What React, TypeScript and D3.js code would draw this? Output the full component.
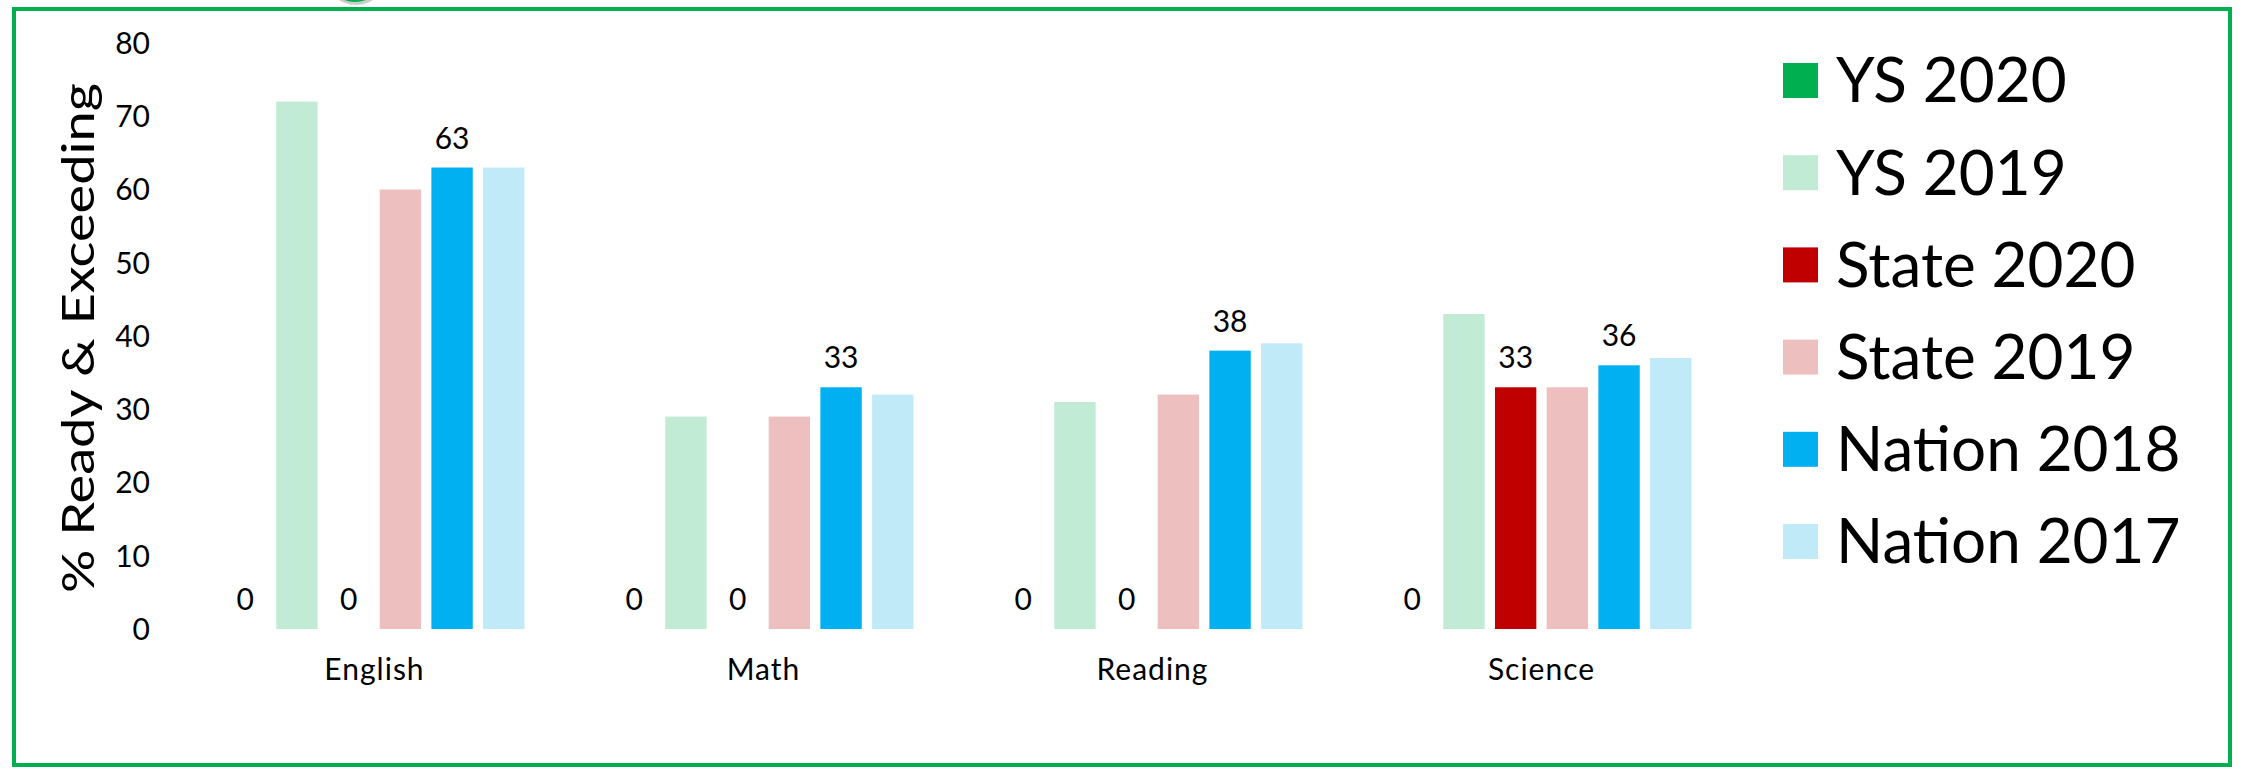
import React from "react";
import * as d3 from "d3";

const categories = ["English", "Math", "Reading", "Science"];
const seriesNames = ["YS 2020", "YS 2019", "State 2020", "State 2019", "Nation 2018", "Nation 2017"];
const seriesColors = ["#00B050", "#C1EBD5", "#C00000", "#EEBFBF", "#00B0F0", "#C1EAF9"];

const ys2020 = [0, 0, 0, 0];
const ys2019 = [72, 29, 31, 43];
const state2020 = [0, 0, 0, 33];
const state2019 = [60, 29, 32, 33];
const nation2018 = [63, 33, 38, 36];
const nation2017 = [63, 32, 39, 37];

// series that carry value labels
const labeledSeries = ["YS 2020", "State 2020", "Nation 2018"];
const yTicks = [0, 10, 20, 30, 40, 50, 60, 70, 80];
const yTitle = "% Ready & Exceeding";

export default function App() {
	const width = 2242;
	const height = 771;
	const plotLeft = 180;
	const plotRight = 1736;
	const plotTop = 43;
	const plotBottom = 629;
	const font = "Lato, 'Open Sans', sans-serif";

	const values = [ys2020, ys2019, state2020, state2019, nation2018, nation2017];

	const x0 = d3
		.scaleBand<string>()
		.domain(categories)
		.range([plotLeft, plotRight])
		.paddingInner(0.229)
		.paddingOuter(0.1145);

	const x1 = d3
		.scaleBand<string>()
		.domain(seriesNames)
		.range([0, x0.bandwidth()])
		.paddingInner(0.2)
		.paddingOuter(0);

	const y = d3.scaleLinear().domain([0, 80]).range([plotBottom, plotTop]);

	const color = d3.scaleOrdinal<string, string>().domain(seriesNames).range(seriesColors);

	return (
		<svg
			width={width}
			height={height}
			style={{ position: "absolute", left: 0, top: 0, background: "#fff" }}
			fontFamily={font}
		>
			{/* little green knob peeking at the top */}
			<circle cx={356} cy={-26} r={31} fill="#9a9a9a" opacity={0.5} />
			<circle cx={355} cy={-28} r={30} fill="#00B050" />

			{/* frame */}
			<rect x={14} y={9} width={2216} height={756} fill="none" stroke="#00B050" strokeWidth={4} />

			{/* y axis labels */}
			<g>
				{yTicks.map((t) => (
					<text key={t} x={150} y={y(t)} dy="0.36em" textAnchor="end" fontSize={30} fill="#000">
						{t}
					</text>
				))}
			</g>
			<text
				transform={`translate(78, 338) rotate(-90)`}
				textAnchor="middle"
				dy="0.36em"
				fontSize={44}
				textLength={510}
				lengthAdjust="spacingAndGlyphs"
				fill="#000"
			>
				{yTitle}
			</text>

			{/* bars */}
			{categories.map((cat, ci) => (
				<g key={cat} transform={`translate(${x0(cat)}, 0)`}>
					{seriesNames.map((s, si) => {
						const v = values[si][ci];
						return (
							<g key={s}>
								{v > 0 && (
									<rect
										x={x1(s)}
										y={y(v)}
										width={x1.bandwidth()}
										height={y(0) - y(v)}
										fill={color(s)}
									/>
								)}
								{labeledSeries.includes(s) && (
									<text
										x={(x1(s) || 0) + x1.bandwidth() / 2}
										y={y(v) - 19}
										textAnchor="middle"
										fontSize={30}
										fill="#000"
									>
										{v}
									</text>
								)}
							</g>
						);
					})}
					<text
						x={x0.bandwidth() / 2}
						y={680}
						textAnchor="middle"
						fontSize={30}
						letterSpacing={1}
						fill="#000"
					>
						{cat}
					</text>
				</g>
			))}

			{/* legend */}
			<g transform="translate(1783, 0)">
				{seriesNames.map((s, i) => {
					const cy = 80 + i * 92.2;
					return (
						<g key={s}>
							<rect x={0} y={cy - 17} width={35} height={35} fill={color(s)} />
							<text x={53} y={cy} dy="0.36em" fontSize={62} fill="#000">
								{s}
							</text>
						</g>
					);
				})}
			</g>
		</svg>
	);
}
